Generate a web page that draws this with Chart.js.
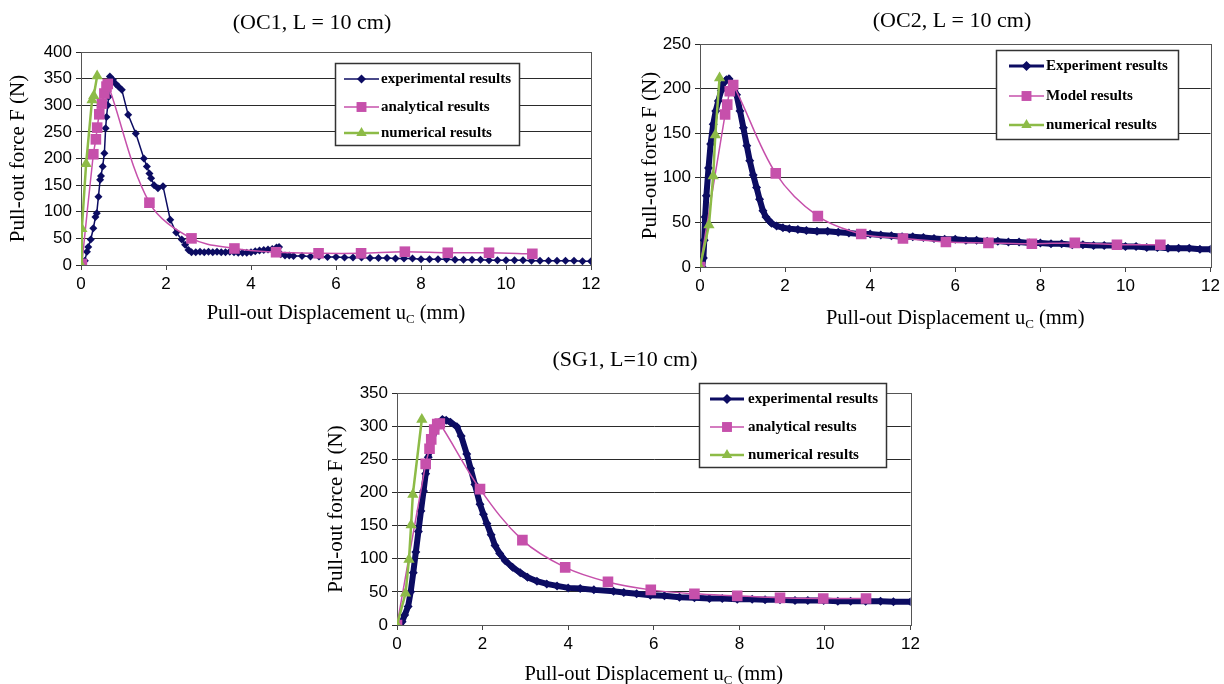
<!DOCTYPE html>
<html>
<head>
<meta charset="utf-8">
<script src="https://cdn.jsdelivr.net/npm/chart.js@4.4.0/dist/chart.umd.min.js"></script>
<style>
  body { margin: 0; background: #fff; }
  #wrap { position: relative; width: 1224px; height: 684px; overflow: hidden; }
  canvas { position: absolute; }
</style>
</head>
<body>
<div id="wrap">
  <canvas id="oc1" width="612" height="340" style="left:0;top:0"></canvas>
  <canvas id="oc2" width="612" height="340" style="left:612px;top:0"></canvas>
  <canvas id="sg1" width="624" height="344" style="left:300px;top:340px"></canvas>
</div>
<script>
'use strict'

// ---- data: [displacement mm, force N] ----
var oc1Exp = [
    [0, 0], [0.09, 8], [0.14, 25], [0.17, 34], [0.23, 48], [0.29, 69], [0.34, 90], [0.37, 97],
    [0.41, 128], [0.45, 160], [0.47, 167], [0.51, 185], [0.55, 210], [0.58, 257], [0.6, 278],
    [0.63, 300], [0.65, 316], [0.68, 354], [0.75, 348], [0.82, 340], [0.88, 335], [0.96, 329],
    [1.11, 282], [1.29, 247], [1.48, 200], [1.55, 185], [1.61, 172], [1.65, 163], [1.72, 150],
    [1.81, 144], [1.93, 148], [2.1, 85], [2.24, 61], [2.37, 48], [2.45, 38], [2.53, 28], [2.6, 24],
    [2.7, 24], [2.8, 25], [2.9, 24], [3.0, 25], [3.1, 24], [3.2, 25], [3.3, 24], [3.4, 24],
    [3.5, 25], [3.6, 24], [3.7, 23], [3.8, 23], [3.9, 23], [4.0, 24], [4.1, 26], [4.2, 27],
    [4.3, 28], [4.4, 29], [4.5, 30], [4.6, 33], [4.66, 34], [4.7, 20], [4.8, 18], [4.9, 18],
    [5.0, 17], [5.2, 17], [5.4, 16], [5.6, 16], [5.8, 15], [6.0, 15], [6.2, 14], [6.4, 14],
    [6.6, 14], [6.8, 13], [7.0, 13], [7.2, 13], [7.4, 12], [7.6, 12], [7.8, 12], [8.0, 11],
    [8.2, 11], [8.4, 11], [8.6, 11], [8.8, 10], [9.0, 10], [9.2, 10], [9.4, 10], [9.6, 9],
    [9.8, 9], [10.0, 9], [10.2, 9], [10.4, 9], [10.6, 8], [10.8, 8], [11.0, 8], [11.2, 8],
    [11.4, 8], [11.6, 8], [11.8, 7], [12.0, 7]
];
var oc1Ana = [
    [0.02, 2], [0.29, 208], [0.35, 236], [0.38, 258], [0.43, 283], [0.49, 303], [0.55, 322],
    [0.6, 335], [0.63, 340], [1.61, 117], [2.6, 50], [3.61, 31], [4.59, 24], [5.59, 22],
    [6.59, 22], [7.62, 25], [8.63, 23], [9.6, 23], [10.62, 21]
];
var oc1Num = [[0, 0], [0.02, 68], [0.12, 190], [0.26, 310], [0.3, 318], [0.38, 355]];

var oc2Exp = [
    [0.05, 0], [0.08, 10], [0.1, 30], [0.12, 56], [0.15, 80], [0.2, 111], [0.25, 138], [0.31, 160],
    [0.37, 175], [0.43, 186], [0.5, 198], [0.55, 206], [0.62, 210], [0.68, 211], [0.75, 206],
    [0.8, 200], [0.86, 193], [0.94, 175], [1.02, 156], [1.1, 136], [1.17, 119], [1.25, 103],
    [1.33, 89], [1.4, 76], [1.48, 63], [1.55, 56], [1.62, 52], [1.68, 49], [1.8, 46], [1.95, 44],
    [2.1, 43], [2.3, 42], [2.5, 41], [2.75, 40], [3.0, 40], [3.25, 39], [3.5, 38], [3.75, 37],
    [4.0, 37], [4.25, 36], [4.5, 35], [4.75, 34], [5.0, 34], [5.25, 33], [5.5, 32], [5.75, 31],
    [6.0, 31], [6.25, 30], [6.5, 30], [6.75, 29], [7.0, 29], [7.25, 28], [7.5, 28], [7.75, 27],
    [8.0, 27], [8.25, 26], [8.5, 26], [8.75, 25], [9.0, 25], [9.25, 24], [9.5, 24], [9.75, 24],
    [10.0, 23], [10.25, 23], [10.5, 22], [10.75, 22], [11.0, 21], [11.25, 21], [11.5, 21],
    [11.75, 20], [12.0, 20]
];
var oc2Mod = [
    [0, 0], [0.59, 171], [0.64, 182], [0.7, 197], [0.78, 204], [1.78, 105], [2.77, 57],
    [3.79, 37], [4.77, 32], [5.78, 28], [6.78, 27], [7.8, 26], [8.81, 27], [9.8, 25], [10.82, 25]
];
var oc2Num = [[0, 0], [0.21, 47], [0.31, 102], [0.36, 148], [0.46, 212]];

var sg1Exp = [
    [0.07, 0], [0.12, 5], [0.18, 15], [0.26, 28], [0.32, 50], [0.38, 79], [0.44, 110], [0.5, 141],
    [0.56, 172], [0.62, 202], [0.67, 228], [0.73, 253], [0.8, 275], [0.89, 294], [0.98, 305],
    [1.06, 310], [1.15, 309], [1.25, 306], [1.4, 299], [1.5, 285], [1.63, 258], [1.72, 236],
    [1.82, 212], [1.94, 182], [2.02, 167], [2.1, 153], [2.2, 136], [2.29, 120], [2.4, 108],
    [2.53, 97], [2.7, 87], [2.88, 79], [3.05, 72], [3.27, 66], [3.5, 62], [3.74, 59], [4.0, 56],
    [4.28, 55], [4.6, 53], [5.06, 51], [5.3, 49], [5.6, 47], [5.92, 45], [6.25, 44], [6.6, 42],
    [6.95, 41], [7.3, 40], [7.6, 40], [7.95, 39], [8.3, 39], [8.6, 38], [8.95, 38], [9.3, 37],
    [9.6, 37], [9.97, 37], [10.3, 36], [10.6, 36], [10.95, 36], [11.3, 36], [11.6, 35], [12.0, 35]
];
var sg1Ana = [
    [0, 0], [0.67, 243], [0.76, 266], [0.8, 280], [0.87, 295], [0.94, 303], [1.0, 304],
    [1.94, 205], [2.93, 128], [3.93, 87], [4.93, 65], [5.93, 53], [6.95, 47], [7.95, 44],
    [8.95, 41], [9.96, 40], [10.96, 40]
];
var sg1Num = [[0, 0], [0.2, 48], [0.28, 99], [0.33, 151], [0.37, 197], [0.58, 310]];

var xTickStep = 2;
var xMax = 12;
var yTickStep = 50;

var navy = '#0c0c62';
var pink = '#c650ab';
var green = '#8dbb47';

function pts(arr) {
    return arr.map(function (p) { return { x: p[0], y: p[1] }; });
}

// chart title + x-axis title with subscript
var captions = {
    id: 'captions',
    afterDraw: function (chart, args, o) {
        var ctx = chart.ctx;
        var area = chart.chartArea;
        ctx.save();
        ctx.fillStyle = '#000';
        ctx.textBaseline = 'middle';
        ctx.textAlign = 'center';
        ctx.font = '22px "Liberation Serif"';
        ctx.fillText(o.title, o.titleX, o.titleY);

        var a = 'Pull-out Displacement u', b = 'C', c = ' (mm)';
        ctx.textAlign = 'left';
        ctx.textBaseline = 'alphabetic';
        ctx.font = '20.5px "Liberation Serif"';
        var wa = ctx.measureText(a).width, wc = ctx.measureText(c).width;
        ctx.font = '13px "Liberation Serif"';
        var wb = ctx.measureText(b).width;
        var x0 = (area.left + area.right) / 2 - (wa + wb + wc) / 2;
        var base = o.xTitleY + 7;
        ctx.font = '20.5px "Liberation Serif"';
        ctx.fillText(a, x0, base);
        ctx.font = '13px "Liberation Serif"';
        ctx.fillText(b, x0 + wa, base + 4);
        ctx.font = '20.5px "Liberation Serif"';
        ctx.fillText(c, x0 + wa + wb, base);
        ctx.restore();
    }
};

// plot-area frame
var frame = {
    id: 'frame',
    beforeDatasetsDraw: function (chart) {
        var ctx = chart.ctx, a = chart.chartArea;
        ctx.save();
        ctx.strokeStyle = '#555';
        ctx.lineWidth = 1;
        ctx.strokeRect(Math.round(a.left) + 0.5, Math.round(a.top) + 0.5,
            Math.round(a.right - a.left), Math.round(a.bottom - a.top));
        ctx.restore();
    }
};

// boxed legend sitting inside the plot
var boxLegend = {
    id: 'boxLegend',
    afterDraw: function (chart, args, o) {
        var ctx = chart.ctx;
        ctx.save();
        ctx.fillStyle = '#fff';
        ctx.fillRect(o.x, o.y, o.w, o.h);
        ctx.strokeStyle = '#333';
        ctx.lineWidth = 1.5;
        ctx.strokeRect(o.x + 0.5, o.y + 0.5, o.w, o.h);
        chart.data.datasets.forEach(function (ds, i) {
            var y = o.rows[i];
            ctx.strokeStyle = ds.borderColor;
            ctx.lineWidth = Math.min(ds.borderWidth, 3);
            ctx.beginPath();
            ctx.moveTo(o.lineX[0], y);
            ctx.lineTo(o.lineX[1], y);
            ctx.stroke();
            ctx.fillStyle = ds.backgroundColor;
            Chart.helpers.drawPoint(ctx, {
                pointStyle: ds.pointStyle, radius: o.radius[i], rotation: 0, borderWidth: 0
            }, (o.lineX[0] + o.lineX[1]) / 2, y);
            ctx.fillStyle = '#000';
            ctx.font = 'bold 15px "Liberation Serif"';
            ctx.textBaseline = 'middle';
            ctx.fillText(ds.label, o.textX, y);
        });
        ctx.restore();
    }
};

function makeChart(id, sets, yMax, lay) {
    var labels = lay.labels;
    var ctx = document.getElementById(id).getContext('2d');
    return new Chart(ctx, {
        type: 'scatter',
        data: {
            datasets: [{
                label: labels[0],
                data: pts(sets[0]),
                showLine: true,
                borderColor: navy,
                backgroundColor: navy,
                borderWidth: lay.expWidth,
                pointStyle: 'rectRot',
                pointRadius: lay.expRadius,
                pointBorderWidth: 0,
                order: 3
            }, {
                label: labels[1],
                data: pts(sets[1]),
                showLine: true,
                borderColor: pink,
                backgroundColor: pink,
                borderWidth: 1.5,
                tension: 0.35,
                pointStyle: 'rect',
                pointRadius: 7.5,
                pointBorderWidth: 0,
                order: 2
            }, {
                label: labels[2],
                data: pts(sets[2]),
                showLine: true,
                borderColor: green,
                backgroundColor: green,
                borderWidth: 2.5,
                pointStyle: 'triangle',
                pointRadius: 6.5,
                pointBorderWidth: 0,
                order: 1
            }]
        },
        options: {
            responsive: false,
            animation: false,
            devicePixelRatio: 1,
            layout: { padding: lay.padding },
            plugins: {
                legend: { display: false },
                tooltip: { enabled: false },
                captions: lay.captions,
                boxLegend: lay.legend
            },
            scales: {
                x: {
                    type: 'linear',
                    min: 0,
                    max: xMax,
                    ticks: {
                        stepSize: xTickStep,
                        color: '#000',
                        padding: 4,
                        maxRotation: 0,
                        autoSkip: false,
                        font: { family: 'Liberation Sans', size: 17 }
                    },
                    grid: { drawOnChartArea: false, tickLength: 5, color: '#444' },
                    border: { color: '#444' },
                    afterFit: function (s) { s.height = lay.xHeight; }
                },
                y: {
                    min: 0,
                    max: yMax,
                    ticks: {
                        stepSize: yTickStep,
                        color: '#000',
                        padding: 4,
                        autoSkip: false,
                        font: { family: 'Liberation Sans', size: 17 }
                    },
                    grid: { color: '#2a2a2a', tickLength: 5 },
                    border: { color: '#444' },
                    title: {
                        display: true,
                        text: 'Pull-out force F (N)',
                        color: '#000',
                        font: { family: 'Liberation Serif', size: 21 },
                        padding: { top: 3, bottom: 0 }
                    },
                    afterFit: function (s) { s.width = lay.yWidth; }
                }
            }
        },
        plugins: [frame, captions, boxLegend]
    });
}

makeChart('oc1', [oc1Exp, oc1Ana, oc1Num], 400, {
    labels: ['experimental results', 'analytical results', 'numerical results'],
    expWidth: 1.5, expRadius: 4,
    padding: { left: 3, top: 52, right: 21, bottom: 0 },
    yWidth: 78, xHeight: 75,
    captions: { title: '(OC1, L = 10 cm)', titleX: 312, titleY: 23, xTitleY: 312 },
    legend: { x: 335, y: 63, w: 184, h: 82, rows: [79, 107, 133], lineX: [344, 379], textX: 381, radius: [4.5, 7, 6] }
});

makeChart('oc2', [oc2Exp, oc2Mod, oc2Num], 250, {
    labels: ['Experiment results', 'Model results', 'numerical results'],
    expWidth: 6, expRadius: 4.5,
    padding: { left: 23, top: 44, right: 11, bottom: 0 },
    yWidth: 65, xHeight: 73,
    captions: { title: '(OC2, L = 10 cm)', titleX: 340, titleY: 21, xTitleY: 317 },
    legend: { x: 384, y: 50, w: 182, h: 89, rows: [66, 96, 125], lineX: [397, 432], textX: 434, radius: [5, 7, 6] }
});

makeChart('sg1', [sg1Exp, sg1Ana, sg1Num], 350, {
    labels: ['experimental results', 'analytical results', 'numerical results'],
    expWidth: 6, expRadius: 4.5,
    padding: { left: 21, top: 53, right: 13, bottom: 0 },
    yWidth: 76, xHeight: 59,
    captions: { title: '(SG1, L=10 cm)', titleX: 325, titleY: 20, xTitleY: 333 },
    legend: { x: 399, y: 43, w: 187, h: 84, rows: [59, 87, 115], lineX: [410, 444], textX: 448, radius: [5, 7, 6] }
});
</script>
</body>
</html>
